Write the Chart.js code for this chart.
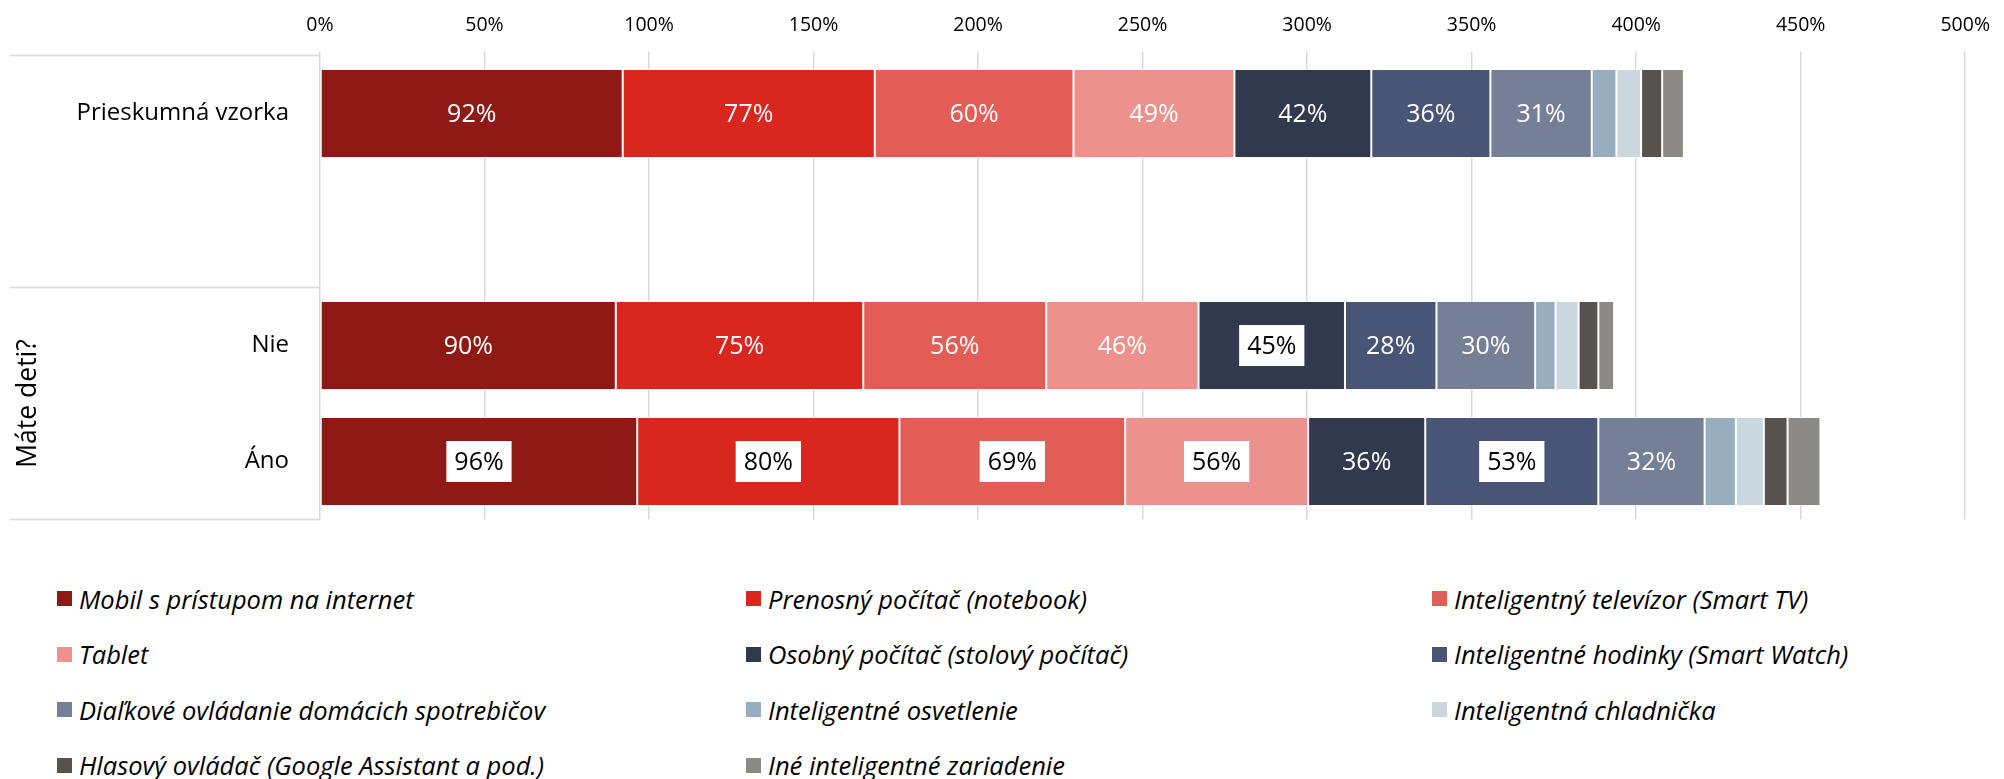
<!DOCTYPE html>
<html lang="sk">
<head>
<meta charset="utf-8">
<title>Inteligentné zariadenia v domácnosti</title>
<script src="https://cdn.jsdelivr.net/npm/chart.js@4.4.1/dist/chart.umd.min.js"></script>
<style>
  html, body { margin: 0; padding: 0; background: #fff; }
  #wrap { position: relative; width: 2004px; height: 779px; overflow: hidden; }
  #chart { position: absolute; left: 0; top: 0; }
  #legend {
    position: absolute; left: 57px; top: 571px;
    display: grid; grid-template-columns: 689px 686px 560px;
    font: italic 25.5px 'Open Sans', sans-serif; color: #000;
  }
  .item { display: flex; align-items: center; height: 55.5px; white-space: nowrap; }
  .box { width: 15px; height: 15px; margin-right: 7px; flex: none; }
</style>
</head>
<body>
<div id="wrap">
  <canvas id="chart" width="2004" height="530"></canvas>
  <div id="legend"></div>
</div>
<script>
// categories (empty row separates the total from the "Máte deti?" group)
const categories = ['Prieskumná vzorka', '', 'Nie', 'Áno'];
const groupTitle = 'Máte deti?';
const tickValues = [0, 50, 100, 150, 200, 250, 300, 350, 400, 450, 500];

const seriesNames = [
  'Mobil s prístupom na internet',
  'Prenosný počítač (notebook)',
  'Inteligentný televízor (Smart TV)',
  'Tablet',
  'Osobný počítač (stolový počítač)',
  'Inteligentné hodinky (Smart Watch)',
  'Diaľkové ovládanie domácich spotrebičov',
  'Inteligentné osvetlenie',
  'Inteligentná chladnička',
  'Hlasový ovládač (Google Assistant a pod.)',
  'Iné inteligentné zariadenie'
];

// values in %, per category
const mobil      = [92,   null, 89.9, 96.4];
const notebook   = [76.6, null, 75.2, 79.7];
const smartTv    = [60.4, null, 55.6, 68.6];
const tablet     = [48.9, null, 46.3, 55.6];
const pc         = [41.6, null, 44.5, 35.6];
const watch      = [36.2, null, 27.8, 52.6];
const remote     = [30.8, null, 30.0, 32.3];
const lighting   = [7.5,  null, 6.2,  9.5];
const fridge     = [7.5,  null, 7.0,  8.5];
const voice      = [6.4,  null, 6.0,  7.2];
const other      = [6.6,  null, 4.8,  10.0];

const seriesValues = [mobil, notebook, smartTv, tablet, pc, watch, remote, lighting, fridge, voice, other];

const colors = ['#8E1A16', '#D9261E', '#E35D57', '#ED918D', '#31394F', '#485576',
                '#757F96', '#97AEBE', '#CAD7DF', '#57524E', '#8B8A87'];

// only the first 7 series carry value labels
const labeledSeries = 7;
// labels shown on a white box: [series index, category index]
const highlighted = [[4, 2], [0, 3], [1, 3], [2, 3], [3, 3], [5, 3]];

const FONT = "'Open Sans', sans-serif";

const groupLines = {
  id: 'groupLines',
  afterDraw(chart) {
    const { ctx, chartArea } = chart;
    const y = chart.scales.y;
    const half = (y.getPixelForValue(1) - y.getPixelForValue(0)) / 2;
    const lines = [y.getPixelForValue(0) - half, y.getPixelForValue(2) - half, y.getPixelForValue(3) + half];
    ctx.save();
    ctx.strokeStyle = '#d9d9d9';
    ctx.lineWidth = 1.5;
    lines.forEach(py => {
      ctx.beginPath();
      ctx.moveTo(10, py);
      ctx.lineTo(chartArea.left, py);
      ctx.stroke();
    });
    ctx.translate(28, (lines[1] + lines[2]) / 2);
    ctx.rotate(-Math.PI / 2);
    ctx.fillStyle = '#000';
    ctx.font = '26.5px ' + FONT;
    ctx.textAlign = 'center';
    ctx.textBaseline = 'middle';
    ctx.fillText(groupTitle, 0, 0);
    ctx.restore();
  }
};

const segmentLabels = {
  id: 'segmentLabels',
  afterDatasetsDraw(chart) {
    const { ctx } = chart;
    ctx.save();
    ctx.font = '25px ' + FONT;
    ctx.textAlign = 'center';
    ctx.textBaseline = 'middle';
    chart.data.datasets.forEach((ds, di) => {
      if (di >= labeledSeries) return;
      chart.getDatasetMeta(di).data.forEach((bar, i) => {
        const v = ds.data[i];
        if (v == null) return;
        const { x, y } = bar.getCenterPoint();
        const text = Math.round(v) + '%';
        const boxed = highlighted.some(h => h[0] === di && h[1] === i);
        if (boxed) {
          const w = ctx.measureText(text).width + 16;
          ctx.fillStyle = '#fff';
          ctx.fillRect(x - w / 2, y - 20.5, w, 41);
          ctx.fillStyle = '#000';
        } else {
          ctx.fillStyle = '#fff';
        }
        ctx.fillText(text, x, y + 1);
      });
    });
    ctx.restore();
  }
};

const chart = new Chart(document.getElementById('chart'), {
  type: 'bar',
  data: {
    labels: categories,
    datasets: seriesNames.map((name, i) => ({
      label: name,
      data: seriesValues[i],
      backgroundColor: colors[i],
      borderColor: 'rgba(255,255,255,0.7)',
      borderWidth: 1,
      borderSkipped: false,
      categoryPercentage: 1,
      barPercentage: 0.767
    }))
  },
  options: {
    indexAxis: 'y',
    responsive: false,
    animation: false,
    layout: { padding: { left: 0, right: 24, top: 0, bottom: 10.5 } },
    plugins: {
      legend: { display: false },
      tooltip: { enabled: false }
    },
    scales: {
      x: {
        position: 'top',
        stacked: true,
        min: 0,
        max: 500,
        afterBuildTicks: axis => { axis.ticks = tickValues.map(v => ({ value: v })); },
        afterFit: axis => { axis.height = 55.5; },
        grid: { color: '#d9d9d9', lineWidth: 1.5, tickLength: 4, tickColor: '#d9d9d9' },
        border: { display: false },
        ticks: {
          padding: 14,
          color: '#000',
          font: { family: FONT, size: 19.5 },
          callback: v => v + '%'
        }
      },
      y: {
        stacked: true,
        afterFit: axis => {
          axis.width = 320;
          // the label padding would otherwise shrink the plot area
          axis.paddingTop = 0;
          axis.paddingBottom = 0;
        },
        grid: { display: false, drawTicks: false },
        border: { display: false },
        ticks: {
          padding: 31,
          color: '#000',
          font: { family: FONT, size: 24 }
        }
      }
    }
  },
  plugins: [groupLines, segmentLabels]
});

// legend in a 3-column grid, built from the chart's own legend items
const legendEl = document.getElementById('legend');
chart.options.plugins.legend.labels.generateLabels(chart).forEach(item => {
  const row = document.createElement('div');
  row.className = 'item';
  const box = document.createElement('span');
  box.className = 'box';
  box.style.background = item.fillStyle;
  const txt = document.createElement('span');
  txt.textContent = item.text;
  row.appendChild(box);
  row.appendChild(txt);
  legendEl.appendChild(row);
});
</script>
</body>
</html>
